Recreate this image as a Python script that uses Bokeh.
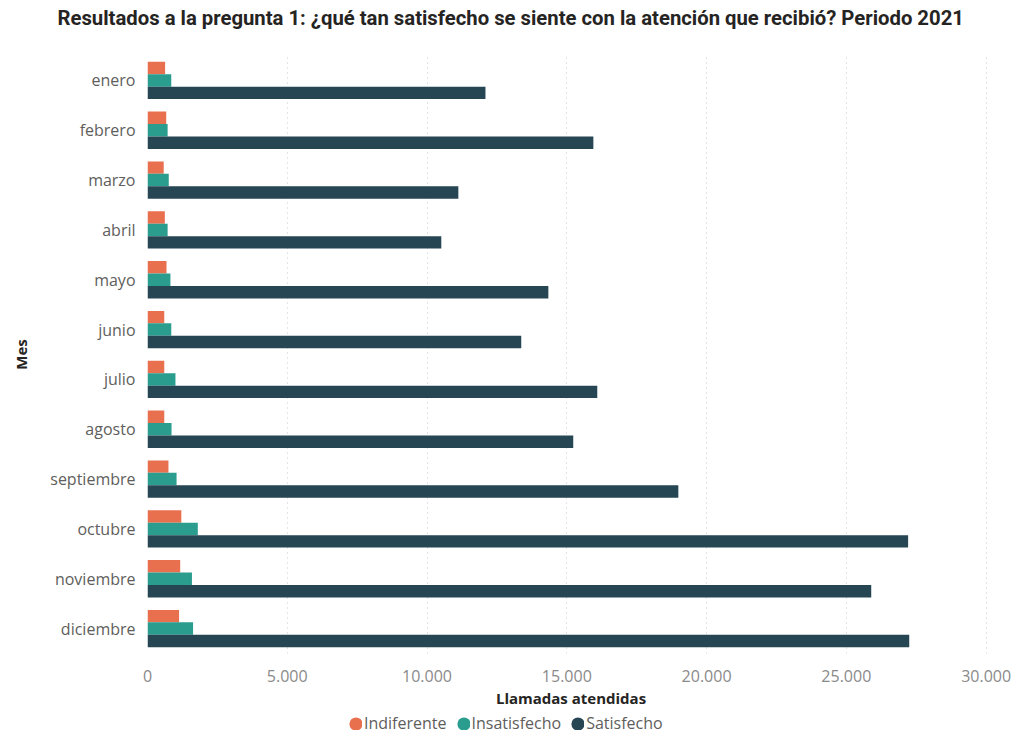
from bokeh.plotting import figure
from bokeh.layouts import column
from bokeh.models import FactorRange, Range1d, Legend, LegendItem, CustomJSTickFormatter, ColumnDataSource
from bokeh.transform import dodge
from bokeh.embed import file_html
from bokeh.resources import INLINE

meses = ["enero", "febrero", "marzo", "abril", "mayo", "junio", "julio", "agosto",
         "septiembre", "octubre", "noviembre", "diciembre"]
indiferente = [630, 670, 580, 620, 680, 600, 600, 600, 750, 1210, 1170, 1130]
insatisfecho = [850, 720, 760, 720, 820, 850, 1000, 860, 1040, 1800, 1590, 1630]
satisfecho = [12090, 15950, 11120, 10510, 14340, 13370, 16090, 15230, 18990, 27210, 25890, 27250]

series_names = ["Indiferente", "Insatisfecho", "Satisfecho"]
colores = ["#E8704F", "#2A9D8F", "#264653"]
x_ticks = [0, 5000, 10000, 15000, 20000, 25000, 30000]
titulo = "Resultados a la pregunta 1: ¿qué tan satisfecho se siente con la atención que recibió? Periodo 2021"

src = ColumnDataSource(dict(mes=meses, Indiferente=indiferente,
                            Insatisfecho=insatisfecho, Satisfecho=satisfecho))

# title figure
tf = figure(width=1020, height=36, output_backend="svg", toolbar_location=None,
            x_axis_type=None, y_axis_type=None, min_border_left=147, min_border_right=26,
            min_border_top=0, min_border_bottom=0,
            x_range=Range1d(0, 1), y_range=Range1d(0, 1))
tf.outline_line_color = None
tf.grid.grid_line_color = None
tf.title.text = titulo
tf.title.align = "left"
tf.title.vertical_align = "top"
tf.title.text_font = "Roboto"
tf.title.text_font_style = "bold"
tf.title.text_font_size = "20.3px"
tf.title.text_color = "#252423"
tf.title.standoff = 10
tf.title.offset = -90

p = figure(width=1020, height=674, output_backend="svg", toolbar_location=None,
           y_range=FactorRange(*reversed(meses)), x_range=Range1d(0, 30300),
           min_border_left=147, min_border_right=26, min_border_top=19,
           min_border_bottom=55)
p.title.text = ""
p.title.standoff = 0

offsets = [0.25, 0.0, -0.25]
for name, col, off in zip(series_names, colores, offsets):
    p.hbar(y=dodge("mes", off, range=p.y_range), right=name, left=0, height=0.25,
           color=col, line_color=None, source=src)

p.xaxis.ticker = x_ticks
p.xaxis.formatter = CustomJSTickFormatter(code="return tick.toFixed(0).replace(/\\B(?=(\\d{3})+(?!\\d))/g, '.');")
p.xaxis.axis_label = "Llamadas atendidas"
p.yaxis.axis_label = "Mes"
for ax in (p.xaxis[0], p.yaxis[0]):
    ax.axis_line_color = None
    ax.major_tick_line_color = None
    ax.minor_tick_line_color = None
    ax.major_label_text_font = "Open Sans"
    ax.major_label_text_font_size = "16px"
    ax.axis_label_text_font = "Open Sans"
    ax.axis_label_text_font_style = "bold"
    ax.axis_label_text_font_size = "15px"
    ax.axis_label_text_color = "#252423"
p.xaxis.major_label_text_color = "#8a8a8a"
p.yaxis.major_label_text_color = "#605E5C"
p.xaxis.major_label_standoff = 10
p.xaxis.axis_label_standoff = 3
p.yaxis.major_label_standoff = 6
p.yaxis.axis_label_standoff = 16

p.ygrid.grid_line_color = None
p.xgrid.grid_line_color = "#c8c8c8"
p.xgrid.grid_line_dash = "1 4"
p.outline_line_color = None

# legend figure with circle markers
lf = figure(width=1020, height=26, output_backend="svg", toolbar_location=None,
            x_axis_type=None, y_axis_type=None, min_border_left=147, min_border_right=26,
            min_border_top=0, min_border_bottom=0,
            x_range=Range1d(0, 1), y_range=Range1d(0, 1))
lf.outline_line_color = None
lf.grid.grid_line_color = None
items = []
for name, col in zip(series_names, colores):
    r = lf.scatter(x=[-10], y=[-10], marker="circle", size=13, color=col, line_width=8)
    items.append(LegendItem(label=name, renderers=[r]))
legend = Legend(items=items, orientation="horizontal", location=(202, 2),
                label_text_font="Open Sans", label_text_font_size="16px",
                label_text_color="#605E5C", glyph_width=13, glyph_height=13,
                label_height=18, label_standoff=2, spacing=10, padding=0, margin=0,
                border_line_color=None, background_fill_alpha=0)
lf.add_layout(legend, "center")

open("out.html", "w").write(file_html(column(tf, p, lf, spacing=0), INLINE))
